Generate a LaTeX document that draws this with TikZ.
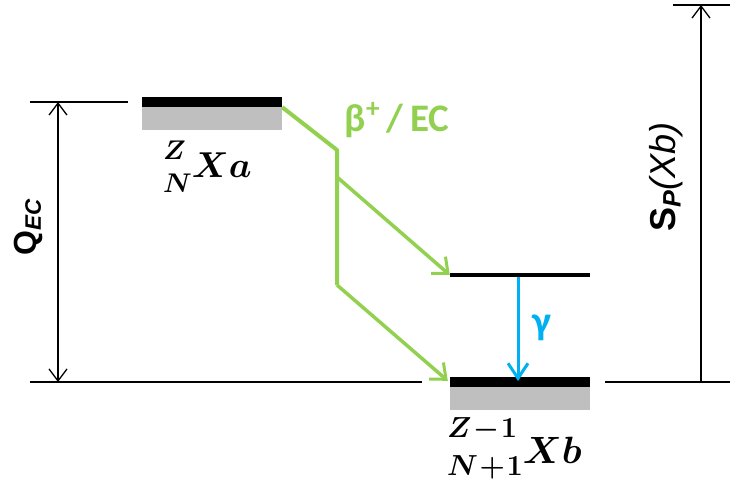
\RequirePackage{fix-cm}
\documentclass[tikz,border=0pt]{standalone}
\usepackage{amsmath,bm,array}
\usepackage{fontspec}
\newfontfamily\carl{Carlito}
\newfontfamily\arl{Liberation Sans}
\usetikzlibrary{arrows.meta}
% #1 main size, #2 script size, #3 row distance, #4 sup, #5 sub, #6 main, #7 raise of script stack
\newcommand{\nuclab}[7]{\fontsize{#1}{#3}\selectfont
  \raisebox{#7}{\begin{tabular}{@{}l@{}}\fontsize{#2}{#3}\selectfont$\bm{#4}$\\ \fontsize{#2}{#3}\selectfont$\bm{#5}$\end{tabular}}%
  \fontsize{#1}{#1}\selectfont$\bm{#6}$}
\definecolor{lvgreen}{RGB}{146,208,80}
\definecolor{lvblue}{RGB}{0,176,240}
\definecolor{lvgray}{RGB}{191,191,191}
\tikzset{
  blackbar/.style={fill=black, draw=none, inner sep=0pt, minimum width=140pt},
  graybar/.style={fill=lvgray, draw=none, inner sep=0pt, minimum width=140pt, minimum height=23pt},
  refline/.style={draw=black, line width=1.3pt},
  dimarrow/.style={draw=black, line width=1.3pt},
  greenline/.style={draw=lvgreen, line width=4pt, line join=round},
  greenarrow/.style={draw=lvgreen, line width=3.5pt, -{Straight Barb[length=13pt,width=22pt,line width=3pt]}},
  bluearrow/.style={draw=lvblue, line width=3pt, -{Straight Barb[length=15pt,width=20pt,line width=3pt]}},
  lbl/.style={inner sep=0pt},
}
\begin{document}
\begin{tikzpicture}[x=1pt,y=-1pt]
\useasboundingbox (0,0) rectangle (731,483);
% levels
\node[blackbar, minimum height=10pt] (xatop) at (212,102) {};
\node[graybar, anchor=north] (xagray) at (xatop.south) {};
\node[blackbar, minimum height=4pt] (xbex) at (520,275) {};
\node[blackbar, minimum height=10pt] (xbtop) at (520,382) {};
\node[graybar, anchor=north] (xbgray) at (xbtop.south) {};
% labels of levels
\node[lbl, anchor=base west] (xalab) at (163,177) {\nuclab{36}{27}{33}{Z}{N}{Xa}{-1pt}};
\node[lbl, anchor=base west] (xblab) at (447,463) {\nuclab{38}{29}{38}{Z\mkern1mu{-}\mkern1mu1}{N\mkern1mu{+}\mkern1mu1}{Xb}{5pt}};
% reference lines
\coordinate (tl1) at (30,102); \coordinate (tl2) at (128,102);
\coordinate (bl1) at (30,382); \coordinate (bl2) at (422,382);
\coordinate (br1) at (605,382); \coordinate (br2) at (730,382);
\coordinate (tr1) at (673,5); \coordinate (tr2) at (730,5);
\draw[refline] (tl1) -- (tl2);
\draw[refline] (bl1) -- (bl2);
\draw[refline] (br1) -- (br2);
\draw[refline] (tr1) -- (tr2);
% Q_EC
\coordinate (qt) at (58,102); \coordinate (qb) at (58,382);
\draw[dimarrow, {Straight Barb[length=12pt,width=18pt,line width=1.3pt]}-{Straight Barb[length=12pt,width=18pt,line width=1.3pt]}] (qt) -- (qb);
\node[lbl, rotate=90] (qlab) at (28,227) {\arl\fontsize{32}{32}\selectfont\textbf{Q}\textsubscript{\textbf{\textit{EC}}}};
% S_P
\coordinate (st) at (701,5); \coordinate (sb) at (701,382);
\draw[dimarrow, -{Straight Barb[length=12pt,width=18pt,line width=1.3pt]}] (sb) -- (st);
\node[lbl, rotate=90] (slab) at (666,177) {\arl\fontsize{36}{36}\selectfont\textbf{S}\textsubscript{\textbf{\textit{P}}}\textit{(Xb)}};
% green decay
\coordinate (g1) at (337,150);
\coordinate (g2) at (337,177);
\coordinate (g3) at (337,285);
\draw[greenline] (xatop.south east) -- (g1) -- (g3);
\draw[greenarrow] (g2) -- (xbex.west);
\draw[greenarrow] (g3) -- ([xshift=-2pt,yshift=-4pt]xbtop.north west);
\node[lbl, text=lvgreen] (blab) at (397,120) {\carl\fontsize{39}{39}\selectfont\textbf{β\textsuperscript{+}\,/\,EC}};
% gamma
\coordinate (gt) at (518,277);
\coordinate (gb) at (518,381);
\draw[bluearrow] (gt) -- (gb);
\node[lbl, text=lvblue] (glab) at (542,328) {\carl\fontsize{40}{40}\selectfont\textbf{γ}};
\end{tikzpicture}
\end{document}
